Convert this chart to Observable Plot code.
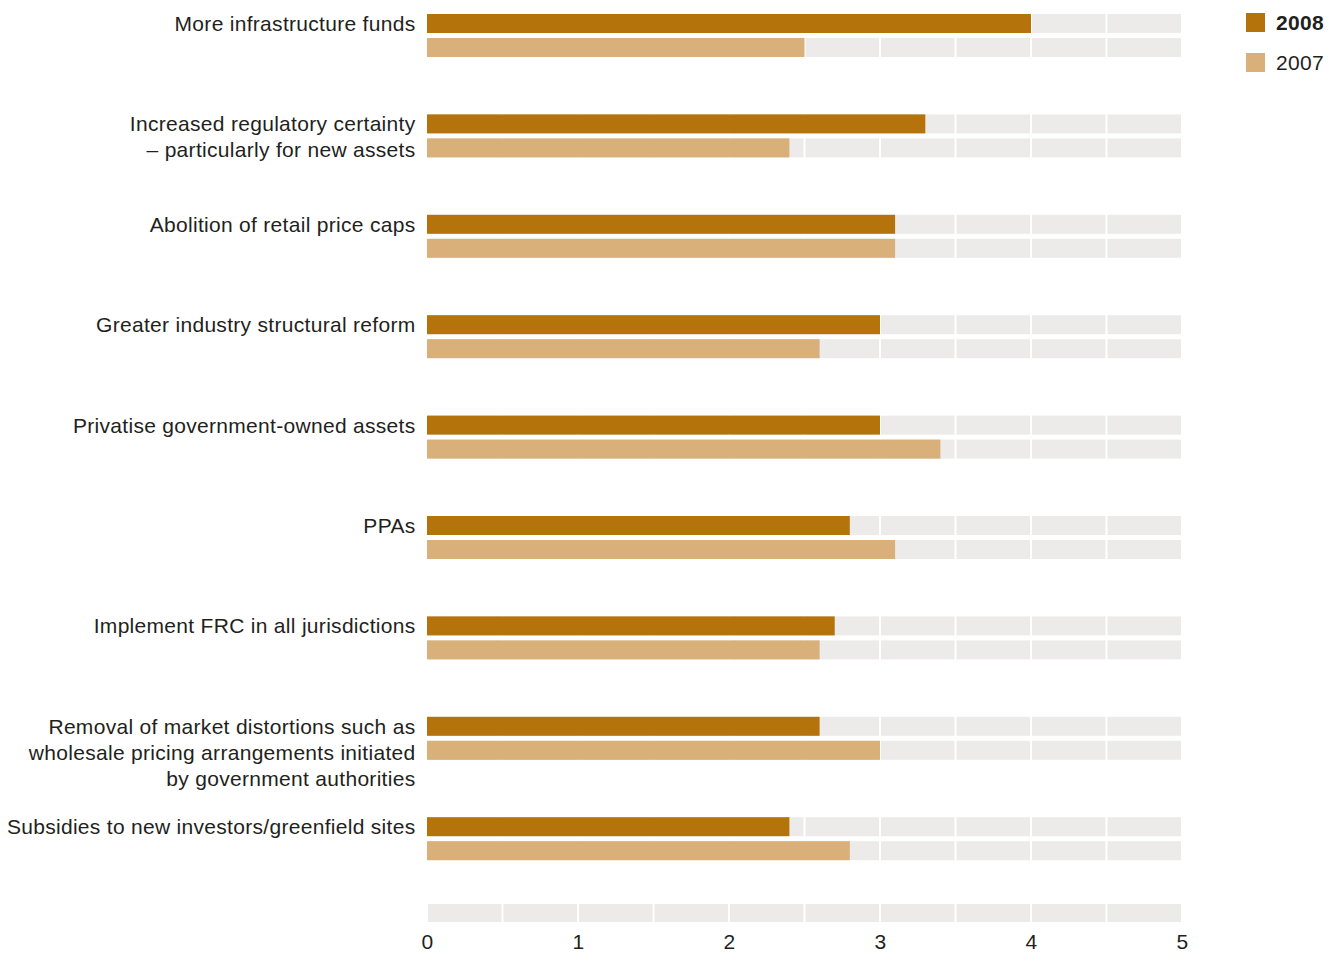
<!DOCTYPE html>
<html>
<head>
<meta charset="utf-8">
<script src="https://cdn.jsdelivr.net/npm/d3@7"></script>
<script src="https://cdn.jsdelivr.net/npm/@observablehq/plot@0.6"></script>
<style>
  body { margin: 0; background: #fff; font-family: "Liberation Sans", Arial, Helvetica, sans-serif; }
  #wrap { position: relative; width: 1338px; height: 954px; overflow: hidden; }
  #wrap svg { position: absolute; left: 0; max-width: none; background: transparent; }
  .leg { position: absolute; left: 1246px; display: flex; align-items: center; height: 19px; font-size: 21px; letter-spacing: 0.3px; color: #231f20; }
  .leg .sw { width: 19px; height: 19px; margin-right: 11px; }
</style>
</head>
<body>
<div id="wrap"></div>
<script>
// ---- data ----
const categories = [
  "More infrastructure funds",
  "Increased regulatory certainty\n– particularly for new assets",
  "Abolition of retail price caps",
  "Greater industry structural reform",
  "Privatise government-owned assets",
  "PPAs",
  "Implement FRC in all jurisdictions",
  "Removal of market distortions such as\nwholesale pricing arrangements initiated\nby government authorities",
  "Subsidies to new investors/greenfield sites"
];
const values2008 = [4.0, 3.3, 3.1, 3.0, 3.0, 2.8, 2.7, 2.6, 2.4];
const values2007 = [2.5, 2.4, 3.1, 2.6, 3.4, 3.1, 2.6, 3.0, 2.8];
const series = ["2008", "2007"];
const seriesColors = ["#b4730b", "#d9af7a"];
const xTicks = [0, 1, 2, 3, 4, 5];
const gridBreaks = [0, 0.5, 1, 1.5, 2, 2.5, 3, 3.5, 4, 4.5, 5];

// ---- derived tables ----
const valuesBySeries = { "2008": values2008, "2007": values2007 };
const rows = categories.flatMap((c, i) => series.map(s => ({ category: c, series: s, value: valuesBySeries[s][i] })));
const segments = gridBreaks.slice(0, -1).map((b, i) => ({ x1: b, x2: gridBreaks[i + 1] }));
const bg = categories.flatMap(c => series.flatMap(s => segments.map(g => ({ category: c, series: s, x1: g.x1, x2: g.x2 }))));

const gray = "#ecebe9";
const textColor = "#231f20";
const W = 1338, ML = 427, MR = 156, plotTop = 14, step = 100.4, barH = 19, barGap = 24;
const yRange = [plotTop, plotTop + categories.length * step];

const font = { fontFamily: '"Liberation Sans", Arial, Helvetica, sans-serif', fontSize: "21px", letterSpacing: "0.3px", color: textColor, background: "transparent", overflow: "visible" };

const rowInset = (k) => ({ insetTop: k * barGap, insetBottom: step - k * barGap - barH });

const main = Plot.plot({
  width: W, height: 890,
  marginLeft: ML, marginRight: MR, marginTop: plotTop, marginBottom: 0,
  style: font,
  x: { domain: [0, 5], axis: null },
  y: { domain: categories, range: yRange, paddingInner: 0, paddingOuter: 0, align: 0, round: false, axis: null },
  marks: [
    ...series.map((s, k) => Plot.barX(bg.filter(d => d.series === s), {
      x1: "x1", x2: "x2", y: "category", fill: gray, insetLeft: 1, insetRight: 1, ...rowInset(k)
    })),
    ...series.map((s, k) => Plot.barX(rows.filter(d => d.series === s), {
      x: "value", y: "category", fill: seriesColors[k], ...rowInset(k)
    })),
    Plot.text(categories, {
      y: d => d, text: d => d, frameAnchor: "left", textAnchor: "end", lineAnchor: "top",
      lineHeight: 1.24, dx: -12, dy: -step / 2 - 2, fill: textColor, fontSize: 21
    })
  ]
});
main.style.top = "0px";

const axis = Plot.plot({
  width: W, height: 64,
  marginLeft: ML, marginRight: MR, marginTop: 14, marginBottom: 32,
  style: font,
  x: { domain: [0, 5] },
  marks: [
    Plot.barX(segments, { x1: "x1", x2: "x2", fill: gray, insetLeft: 1, insetRight: 1 }),
    Plot.axisX({ ticks: xTicks, tickSize: 0, tickPadding: 12, fontSize: 21, fill: textColor, tickFormat: d => String(d), label: null })
  ]
});
axis.style.top = "890px";

const wrap = document.getElementById("wrap");
wrap.appendChild(main);
wrap.appendChild(axis);

// legend
series.forEach((s, k) => {
  const el = document.createElement("div");
  el.className = "leg";
  el.style.top = (13 + k * 40) + "px";
  el.innerHTML = `<span class="sw" style="background:${seriesColors[k]}"></span><span style="font-weight:${k === 0 ? "bold" : "normal"}">${s}</span>`;
  wrap.appendChild(el);
});
</script>
</body>
</html>
